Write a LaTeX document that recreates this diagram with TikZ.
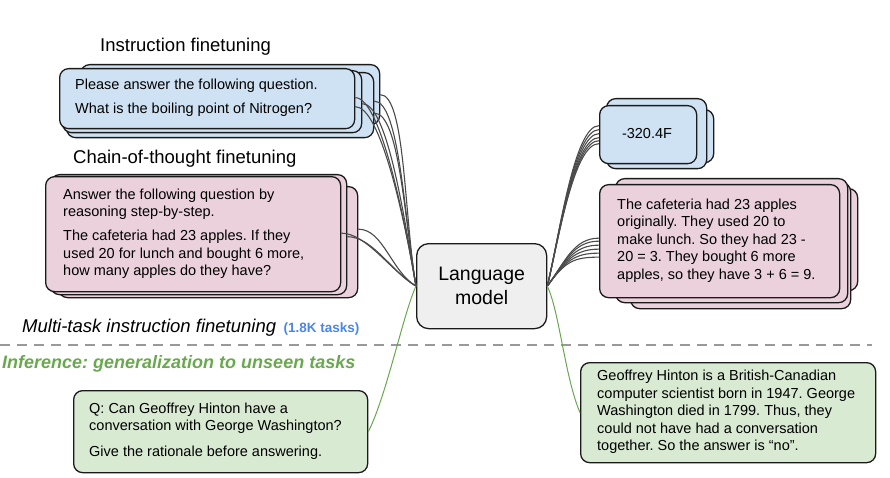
\documentclass[tikz,border=0pt]{standalone}
\usepackage{fontspec}
\setmainfont{Liberation Sans}
\definecolor{bluefill}{HTML}{CFE2F3}
\definecolor{pinkfill}{HTML}{EAD1DC}
\definecolor{greenfill}{HTML}{D9EAD3}
\definecolor{lmfill}{HTML}{EFEFEF}
\definecolor{linegray}{HTML}{4A4A4A}
\definecolor{ggreen}{HTML}{6AA84F}
\definecolor{taskblue}{HTML}{4A86E8}
\definecolor{dashgray}{HTML}{999999}
\definecolor{edge}{HTML}{1A1A1A}
\begin{document}
\frenchspacing
\begin{tikzpicture}[x=1pt,y=-1pt,
  card/.style={draw=edge, line width=1.3pt, rounded corners=9pt, anchor=north west, inner sep=0pt},
  bluecard/.style={card, fill=bluefill},
  pinkcard/.style={card, fill=pinkfill},
  greencard/.style={card, fill=greenfill},
  txt/.style={anchor=west, align=left, inner sep=0pt, font=\fontsize{14.5}{17.5}\selectfont},
  title/.style={anchor=base west, inner sep=0pt, font=\fontsize{18.5}{22}\selectfont},
  conn/.style={draw=linegray, line width=1.1pt},
  gconn/.style={draw=ggreen, line width=1pt}]
\useasboundingbox (0,0) rectangle (890,478);

% titles
\node[title] (tinst) at (100,51.7) {Instruction finetuning};
\node[title] (tcot) at (73,164) {Chain-of-thought finetuning};

% blue stack left
\node[bluecard, minimum width=299pt, minimum height=60pt] (bl4) at (80,64) {};
\node[bluecard, minimum width=307pt, minimum height=65pt] (bl3) at (66,72) {};
\node[bluecard, minimum width=299pt, minimum height=62pt] (bl2) at (62,70) {};
\node[bluecard, minimum width=295pt, minimum height=60pt] (bl1) at (59,68) {};
\node[txt] (tbl) at (75,98) {Please answer the following question.\\[7pt]What is the boiling point of Nitrogen?};

% pink stack left
\node[pinkcard, minimum width=299pt, minimum height=111pt] (pl3) at (58,186) {};
\node[pinkcard, minimum width=296pt, minimum height=120pt] (pl2) at (50,174) {};
\node[pinkcard, minimum width=295pt, minimum height=115pt] (pl1) at (45,176) {};
\node[txt] (tpl) at (63,234) {Answer the following question by\\reasoning step-by-step.\\[6.5pt]The cafeteria had 23 apples. If they\\used 20 for lunch and bought 6 more,\\how many apples do they have?};

% language model
\node[card, fill=lmfill, rounded corners=12pt, minimum width=130pt, minimum height=85pt] (lm) at (416,243) {};
\node[align=center, inner sep=0pt, font=\fontsize{19.5}{24}\selectfont] (tlm) at (lm.center) {Language\\model};

% blue stack right
\node[bluecard, minimum width=95pt, minimum height=53pt] (rb3) at (618,109) {};
\node[bluecard, minimum width=100pt, minimum height=70pt] (rb2) at (606,98) {};
\node[bluecard, minimum width=97pt, minimum height=58pt] (rb1) at (599,105) {};
\node[inner sep=0pt, font=\fontsize{14.5}{17.5}\selectfont] (trb) at (647,134) {-320.4F};

% pink stack right
\node[pinkcard, minimum width=207pt, minimum height=102pt] (rp4) at (650,188) {};
\node[pinkcard, minimum width=220pt, minimum height=126pt] (rp3) at (630,182) {};
\node[pinkcard, minimum width=232pt, minimum height=124pt] (rp2) at (615,178) {};
\node[pinkcard, minimum width=240pt, minimum height=113pt] (rp1) at (599,184) {};
\node[txt] (trp) at (617,240.5) {The cafeteria had 23 apples\\originally. They used 20 to\\make lunch. So they had 23 -\\20 = 3. They bought 6 more\\apples, so they have 3 + 6 = 9.};

% separator and captions
\draw[dashgray, line width=2.6pt, dash pattern=on 10pt off 7pt] (0,345) -- (872,345);
\node[title, font=\fontsize{18.5}{22}\selectfont\itshape] (tmt) at (22,332.5) {Multi-task instruction finetuning};
\node[anchor=base west, inner sep=0pt, text=taskblue, font=\fontsize{13.5}{16}\selectfont\bfseries] (ttask) at ([xshift=7pt]tmt.base east) {(1.8K tasks)};
\node[anchor=base west, inner sep=0pt, text=ggreen, font=\fontsize{18}{22}\selectfont\bfseries\itshape] (tinf) at (2,368) {Inference: generalization to unseen tasks};

% green boxes
\node[greencard, minimum width=294pt, minimum height=82pt] (g1) at (73,390) {};
\node[txt] (tg1) at (89,431) {Q: Can Geoffrey Hinton have a\\conversation with George Washington?\\[8pt]Give the rationale before answering.};
\node[greencard, minimum width=295pt, minimum height=100pt] (g2) at (580,362) {};
\node[txt] (tg2) at (597,412) {Geoffrey Hinton is a British-Canadian\\computer scientist born in 1947. George\\Washington died in 1799. Thus, they\\could not have had a conversation\\together. So the answer is “no”.};

% connectors left
\draw[conn] ([yshift=1pt]bl1.east) .. controls +(25,0) and +(-12,-70) .. (lm.west);
\draw[conn] ([yshift=-8pt]bl1.east) .. controls +(25,0) and +(-12,-70) .. (lm.west);
\draw[conn] ([yshift=-2pt]bl2.east) .. controls +(25,0) and +(-12,-70) .. (lm.west);
\draw[conn] ([yshift=4pt]bl3.east) .. controls +(25,0) and +(-12,-70) .. (lm.west);
\draw[conn] ([yshift=-8pt]bl3.east) .. controls +(25,0) and +(-12,-70) .. (lm.west);
\draw[conn] ([yshift=0pt]bl4.east) .. controls +(25,0) and +(-12,-70) .. (lm.west);
\draw[conn] ([yshift=1pt]pl1.east) .. controls +(25,0) and +(-25,-15) .. (lm.west);
\draw[conn] ([yshift=-2pt]pl2.east) .. controls +(25,0) and +(-25,-15) .. (lm.west);
\draw[conn] ([yshift=13pt]pl3.east) .. controls +(25,0) and +(-25,-15) .. (lm.west);

% connectors right
\foreach \s in {9,5,1,-3,-6,-9}
  \draw[conn] (lm.east) .. controls +(12,-50) and +(-25,0) .. ([yshift=\s pt]rb1.west);
\foreach \s in {3,0,-4,-8,-12,-16}
  \draw[conn] (lm.east) .. controls +(18,-25) and +(-25,0) .. ([yshift=\s pt]rp1.west);

% green connectors
\draw[gconn] (lm.west) .. controls +(-12,25) and +(18,-35) .. (g1.east);
\draw[gconn] (lm.east) .. controls +(12,25) and +(-15,-35) .. (g2.west);
\end{tikzpicture}
\end{document}
